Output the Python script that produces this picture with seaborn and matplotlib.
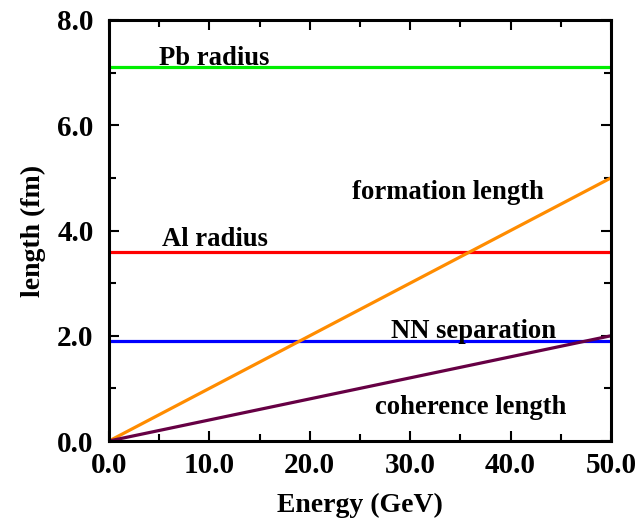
import numpy as np
import pandas as pd
import matplotlib
matplotlib.use("Agg")
import matplotlib.pyplot as plt
from matplotlib.ticker import MultipleLocator, FormatStrFormatter
import seaborn as sns

# Energy range (GeV) and the length scales (fm)
energy = [0.0, 50.0]
pb_radius = [7.1, 7.1]
al_radius = [3.6, 3.6]
nn_separation = [1.9, 1.9]
formation_length = [0.0, 5.0]
coherence_length = [0.0, 2.0]

series_names = ["Pb radius", "Al radius", "NN separation",
                "formation length", "coherence length"]
series_values = [pb_radius, al_radius, nn_separation,
                 formation_length, coherence_length]
series_colors = ["#00ee00", "#ff0000", "#0000ff", "#ff8c00", "#660044"]

df = pd.DataFrame({
    "Energy": np.tile(energy, len(series_names)),
    "length": np.concatenate(series_values),
    "series": np.repeat(series_names, len(energy)),
})

sns.set_theme(style="ticks")
plt.rcParams["font.family"] = ["Liberation Serif", "DejaVu Serif"]
plt.rcParams["font.weight"] = "bold"
plt.rcParams["text.color"] = "black"
plt.rcParams["axes.labelcolor"] = "black"

fig = plt.figure(figsize=(6.39, 5.27), dpi=100)
ax = fig.add_axes([109 / 639, 1 - 441 / 527, 502 / 639, 421 / 527])

sns.lineplot(data=df, x="Energy", y="length", hue="series",
             hue_order=series_names, palette=series_colors,
             linewidth=2.3, legend=False, ax=ax)

# Curve annotations
labels = [
    ("Pb radius", 10.5, 7.27),
    ("Al radius", 10.6, 3.83),
    ("formation length", 33.8, 4.72),
    ("NN separation", 36.3, 2.09),
    ("coherence length", 36.0, 0.63),
]
for text, x, y in labels:
    ax.text(x, y, text, ha="center", va="center", fontsize=19.2,
            fontweight="bold", color="black")

ax.set_xlim(0, 50)
ax.set_ylim(0, 8)
ax.xaxis.set_major_locator(MultipleLocator(10))
ax.xaxis.set_minor_locator(MultipleLocator(5))
ax.yaxis.set_major_locator(MultipleLocator(2))
ax.yaxis.set_minor_locator(MultipleLocator(1))
ax.xaxis.set_major_formatter(FormatStrFormatter("%.1f"))
ax.yaxis.set_major_formatter(FormatStrFormatter("%.1f"))

ax.tick_params(which="both", direction="in", top=True, right=True,
               width=1.5, colors="black", labelsize=21)
ax.tick_params(axis="y", which="major", pad=11)
ax.tick_params(axis="x", which="major", pad=8)
ax.tick_params(which="major", length=7)
ax.tick_params(which="minor", length=5)
for lab in ax.get_xticklabels() + ax.get_yticklabels():
    lab.set_fontweight("bold")

for spine in ax.spines.values():
    spine.set_linewidth(2.2)
    spine.set_color("black")

ax.set_xlabel("Energy (GeV)", fontsize=20, fontweight="bold", labelpad=10)
ax.set_ylabel("length (fm)", fontsize=20, fontweight="bold", labelpad=8)

fig.savefig("out.png", dpi=100)
